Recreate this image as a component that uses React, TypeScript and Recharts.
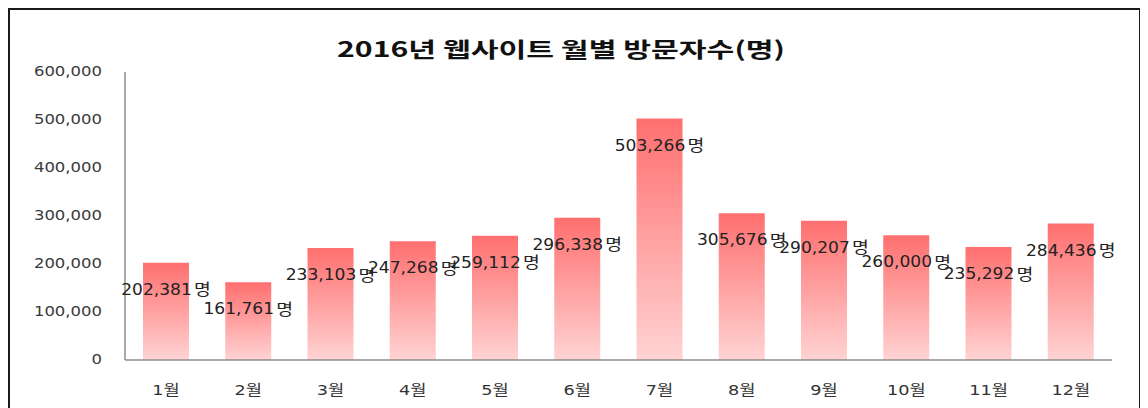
import React from 'react';
import { BarChart, Bar, XAxis, YAxis, LabelList } from 'recharts';

const months = ['1월', '2월', '3월', '4월', '5월', '6월', '7월', '8월', '9월', '10월', '11월', '12월'];
const visitors = [202381, 161761, 233103, 247268, 259112, 296338, 503266, 305676, 290207, 260000, 235292, 284436];
const yTicks = [0, 100000, 200000, 300000, 400000, 500000, 600000];
const title = '2016년 웹사이트 월별 방문자수(명)';

const data = months.map((m, i) => ({ month: m, value: visitors[i] }));

const FONT = '"DejaVu Sans", "Noto Sans CJK KR", sans-serif';
const fmt = (v: number) => v.toLocaleString('en-US');

const YTick = (props: any) => {
  const { x, y, payload } = props;
  return (
    <text
      transform={`translate(${x},${y}) scale(1.22,1)`}
      textAnchor="end"
      dominantBaseline="central"
      fontFamily={FONT}
      fontSize={13.5}
      fill="#3a3a3a"
    >
      {fmt(payload.value)}
    </text>
  );
};

const XTick = (props: any) => {
  const { x, y, payload } = props;
  return (
    <text
      transform={`translate(${x},${y}) scale(1.22,1)`}
      textAnchor="middle"
      dominantBaseline="central"
      fontFamily={FONT}
      fontSize={14.5}
      fill="#333"
    >
      {payload.value}
    </text>
  );
};

const ValueLabel = (props: any) => {
  const { x, y, width, value } = props;
  const cx = Number(x) + Number(width) / 2;
  const cy = Number(y) + 27;
  return (
    <text
      transform={`translate(${cx},${cy}) scale(1.14,1)`}
      textAnchor="middle"
      dominantBaseline="central"
      fontFamily={FONT}
      fontSize={15}
      fill="#222"
    >
      {fmt(value)}
      <tspan dx={2} fontSize={16}>명</tspan>
    </text>
  );
};

export default function App() {
  return (
    <div style={{ position: 'relative', width: 1140, height: 400, overflow: 'hidden', background: '#fff' }}>
      <div
        style={{
          position: 'absolute',
          left: 0,
          top: 0,
          width: 1133,
          height: 440,
          border: '2px solid #1a1a1a',
          boxSizing: 'border-box',
          pointerEvents: 'none',
        }}
      />
      <div style={{ position: 'absolute', left: 0, top: 0 }}>
        <BarChart width={1140} height={400} data={data} margin={{ top: 64, right: 36, bottom: 0, left: 0 }}>
          <defs>
            <linearGradient id="barGrad" x1="0" y1="0" x2="0" y2="1">
              <stop offset="0%" stopColor="#FF6F6F" />
              <stop offset="100%" stopColor="#FFD3D3" />
            </linearGradient>
          </defs>
          <text
            x={553}
            y={40}
            textAnchor="middle"
            dominantBaseline="central"
            fontFamily='"Noto Sans CJK KR", sans-serif'
            fontWeight={700}
            fontSize={21}
            fill="#111"
            textLength={448}
            lengthAdjust="spacingAndGlyphs"
          >
            {title}
          </text>
          <XAxis
            dataKey="month"
            height={48}
            tickLine={false}
            tickSize={0}
            tickMargin={30}
            axisLine={{ stroke: '#8c8c8c', strokeWidth: 1.5 }}
            tick={<XTick />}
            interval={0}
          />
          <YAxis
            width={117}
            domain={[0, 600000]}
            ticks={yTicks}
            tickLine={false}
            tickSize={0}
            tickMargin={23}
            axisLine={{ stroke: '#8c8c8c', strokeWidth: 1.5 }}
            tick={<YTick />}
            interval={0}
          />
          <Bar dataKey="value" fill="url(#barGrad)" barSize={46} isAnimationActive={false}>
            <LabelList dataKey="value" content={<ValueLabel />} />
          </Bar>
        </BarChart>
      </div>
    </div>
  );
}
